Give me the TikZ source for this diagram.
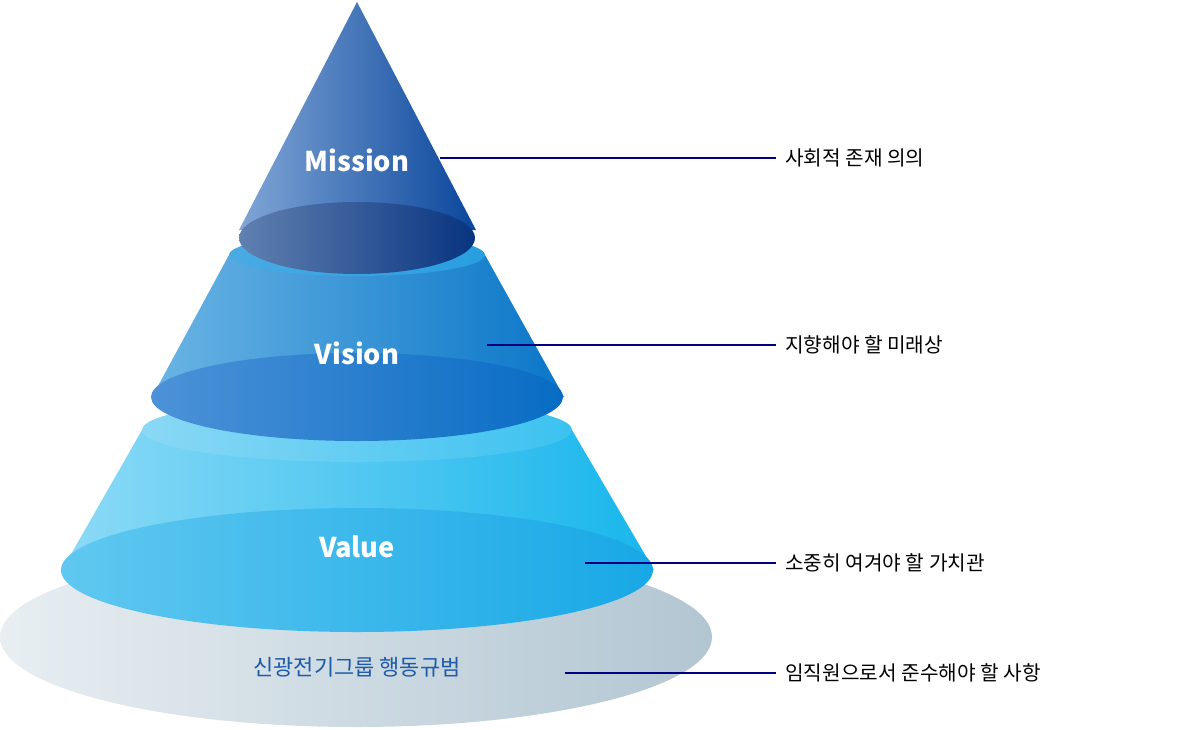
\documentclass[tikz,border=0pt]{standalone}
\usepackage{fontspec}
\setmainfont{Noto Sans CJK KR}
\begin{document}
\begin{tikzpicture}[x=0.02cm,y=-0.02cm,
  lab/.style={font=\fontsize{11.5pt}{13pt}\selectfont, anchor=west, inner sep=0pt},
  tit/.style={font=\fontsize{15.5pt}{18pt}\selectfont\bfseries, text=white, inner sep=0pt},
  con/.style={draw=blue!50!black, line width=0.7pt}]
\useasboundingbox (0,0) rectangle (1200,730);
% base disc
\shade[left color={rgb,255:red,232;green,238;blue,242}, right color={rgb,255:red,178;green,198;blue,210}] (356,637) ellipse [x radius=356, y radius=90];
% Value
\shade[left color={rgb,255:red,140;green,218;blue,246}, right color={rgb,255:red,24;green,182;blue,236}] (142,430) -- (62,570) -- (654,570) -- (572,430) -- cycle;
\shade[left color={rgb,255:red,138;green,216;blue,245}, right color={rgb,255:red,60;green,194;blue,240}] (357,430) ellipse [x radius=215, y radius=32];
% Vision
\shade[left color={rgb,255:red,106;green,180;blue,228}, right color={rgb,255:red,10;green,118;blue,200}] (229,255) -- (152,397) -- (564,397) -- (485,255) -- cycle;
\shade[left color={rgb,255:red,74;green,170;blue,228}, right color={rgb,255:red,40;green,158;blue,224}] (357,255) ellipse [x radius=128, y radius=21];
\shade[left color={rgb,255:red,76;green,146;blue,216}, right color={rgb,255:red,8;green,108;blue,196}] (357,397) ellipse [x radius=206, y radius=44];
% Value face (drawn after vision face? no: vision face overlaps value lip only)
\shade[left color={rgb,255:red,96;green,200;blue,240}, right color={rgb,255:red,24;green,168;blue,230}] (357,570) ellipse [x radius=296, y radius=62];
% Mission
\shade[left color={rgb,255:red,128;green,166;blue,214}, right color={rgb,255:red,10;green,70;blue,156}] (357,2) -- (239,230) -- (476,230) -- cycle;
\shade[left color={rgb,255:red,96;green,128;blue,176}, right color={rgb,255:red,8;green,52;blue,128}] (357,238) ellipse [x radius=118, y radius=36];
% titles
\node[tit] (mis) at (357,160) {Mission};
\node[tit] (vis) at (357,353) {Vision};
\node[tit] (val) at (357,547) {Value};
\node[font=\fontsize{12.5pt}{14pt}\selectfont, text={rgb,255:red,30;green,90;blue,168}, inner sep=0pt] (code) at (357,667) {신광전기그룹 행동규범};
% labels
\node[lab] (l1) at (785,158) {사회적 존재 의의};
\node[lab] (l2) at (785,345) {지향해야 할 미래상};
\node[lab] (l3) at (785,563) {소중히 여겨야 할 가치관};
\node[lab] (l4) at (785,673) {임직원으로서 준수해야 할 사항};
\coordinate (a1) at (440,158);
\coordinate (a2) at (487,345);
\coordinate (a3) at (585,563);
\coordinate (a4) at (565,673);
\draw[con] (a1) -- ([xshift=-5pt]l1.west);
\draw[con] (a2) -- ([xshift=-5pt]l2.west);
\draw[con] (a3) -- ([xshift=-5pt]l3.west);
\draw[con] (a4) -- ([xshift=-5pt]l4.west);
\end{tikzpicture}
\end{document}
